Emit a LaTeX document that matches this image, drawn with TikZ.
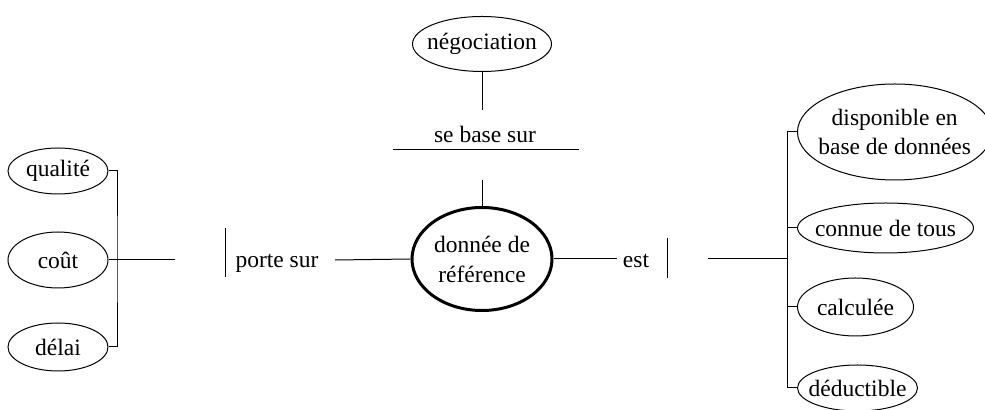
\documentclass[tikz,border=0pt]{standalone}
\usepackage{fontspec}
\setmainfont{Liberation Serif}
\usetikzlibrary{calc,shapes.geometric}
\tikzset{
  notion/.style={ellipse,draw,line width=.5pt,inner sep=0pt,align=center},
  lien/.style={inner sep=0pt}
}

\begin{document}
\begin{tikzpicture}[x=.5pt,y=-.5pt,font=\fontsize{11.75}{14.5}\selectfont,line width=.5pt]
\useasboundingbox (0,0) rectangle (985,410);
% centre
\node[notion,line width=1.5pt,minimum width=70pt,minimum height=51.5pt,font=\fontsize{11.75}{15}\selectfont] (centre) at (482,259) {donnée de\\référence};
% haut
\node[notion,inner xsep=-3pt,minimum width=69.5pt,minimum height=27.5pt] (nego) at (482,44) {négociation};
\node[lien,anchor=base] (base) at (485,143) {se base sur};
\coordinate (nb) at (482,110);\coordinate (ct) at (482,180);
\draw (nego.south) -- (nb);\draw ($(base.base)+(-92,7)$) -- ($(base.base)+(94,7)$);\draw (ct) -- (centre.north);
% gauche
\node[notion,minimum width=50pt,minimum height=23pt] (qualite) at (58,171) {qualité};
\node[notion,minimum width=50pt,minimum height=28pt] (cout) at (58,260) {coût};
\node[notion,minimum width=50pt,minimum height=24pt] (delai) at (58,347) {délai};
\node[lien,anchor=base] (porte) at (277,268) {porte sur};
\coordinate (lb) at (117,260);\coordinate (pg) at (175,260);\coordinate (pd) at (335,260);
\draw (qualite.east) -| (lb) |- (delai.east);\draw (cout.east) -- (pg);
\draw ($(porte.base west)+(-10,-40)$) -- ($(porte.base west)+(-10,9)$);\draw (centre.west) -- (pd);
% droite
\node[notion,anchor=west,inner xsep=-3.8pt,minimum width=94pt,minimum height=48pt] (dispo) at (797,132) {disponible en\\base de données};
\node[notion,anchor=west,inner xsep=-4.2pt,minimum width=88pt,minimum height=25pt] (connue) at (797,228) {connue de tous};
\node[notion,anchor=west,minimum width=58pt,minimum height=29pt] (calc) at (797,307) {calculée};
\node[notion,anchor=west,inner xsep=-3.3pt,minimum width=60pt,minimum height=23pt] (deduct) at (797,388) {déductible};
\node[lien,anchor=base] (est) at (636,268) {est};
\coordinate (rb) at (787,259);\coordinate (eg) at (708,259);\coordinate (ed) at (617,259);
\draw (dispo.west) -| (rb) |- (deduct.west);\draw (connue.west) -| (rb);\draw (calc.west) -| (rb);\draw (eg) -- (rb);
\draw ($(est.base east)+(18,-30)$) -- ($(est.base east)+(18,10)$);\draw (centre.east) -- (ed);
\end{tikzpicture}
\end{document}
